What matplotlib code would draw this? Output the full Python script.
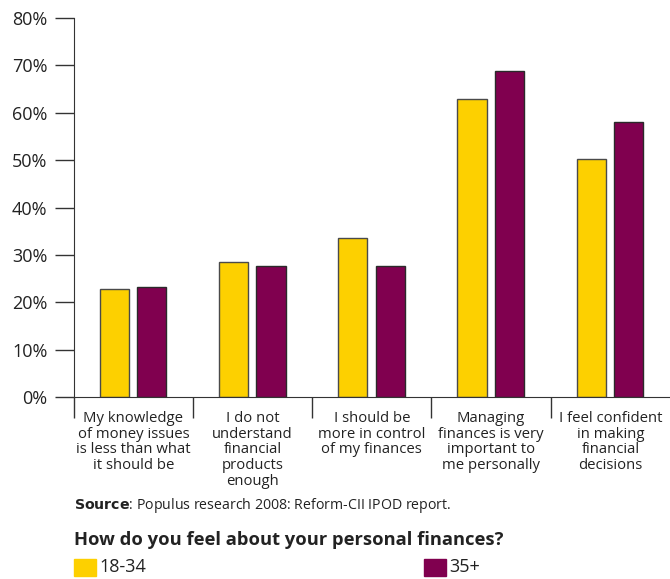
import numpy as np
import matplotlib.pyplot as plt
from matplotlib.patches import Rectangle

plt.rcParams['font.family'] = ['Open Sans', 'DejaVu Sans']

categories = [
    "My knowledge\nof money issues\nis less than what\nit should be",
    "I do not\nunderstand\nfinancial\nproducts\nenough",
    "I should be\nmore in control\nof my finances",
    "Managing\nfinances is very\nimportant to\nme personally",
    "I feel confident\nin making\nfinancial\ndecisions",
]
young = [22.8, 28.6, 33.5, 62.9, 50.2]
older = [23.2, 27.6, 27.6, 68.8, 58.0]
yticks = [0, 10, 20, 30, 40, 50, 60, 70, 80]

yellow = '#FDD000'
purple = '#80004F'
text_col = '#222222'

fig = plt.figure(figsize=(6.7, 5.79), dpi=100)
ax = fig.add_axes([0.110, 0.3143, 0.89, 0.6546])

x = np.arange(len(categories)) + 0.5
w = 0.245
ax.bar(x - 0.16, young, w, color=yellow, edgecolor='#4a4a4a', linewidth=1)
ax.bar(x + 0.155, older, w, color=purple, edgecolor='#2a2a2a', linewidth=1)

ax.set_xlim(0, len(categories))
ax.set_ylim(0, 80)
ax.set_yticks(yticks)
ax.set_yticklabels([f"{v}%" for v in yticks], fontsize=13, color=text_col)
ax.set_xticks(np.arange(len(categories)))
ax.set_xticklabels([])
ax.tick_params(axis='y', length=14, width=1, color='#333333', pad=5)
ax.tick_params(axis='x', length=15, width=1, color='#333333')

for s in ['top', 'right']:
    ax.spines[s].set_visible(False)
ax.spines['left'].set_color('#333333')
ax.spines['bottom'].set_color('#333333')

for xi, lab in zip(x, categories):
    ax.text(xi, -2.9, lab, ha='center', va='top', fontsize=10.7,
            color=text_col, linespacing=1.07)

fig.text(0.110, 0.127, r"$\bf{Source}$: Populus research 2008: Reform-CII IPOD report.",
         fontsize=10.2, color=text_col, va='center')
fig.text(0.110, 0.068, "How do you feel about your personal finances?",
         fontsize=13.2, fontweight='bold', color=text_col, va='center')

fig.patches.append(Rectangle((0.110, 0.006), 0.034, 0.028, transform=fig.transFigure,
                             color=yellow, figure=fig))
fig.text(0.148, 0.020, "18-34", fontsize=13, color=text_col, va='center')
fig.patches.append(Rectangle((0.633, 0.006), 0.032, 0.028, transform=fig.transFigure,
                             color=purple, figure=fig))
fig.text(0.670, 0.020, "35+", fontsize=13, color=text_col, va='center')

fig.savefig('out.png', dpi=100)
